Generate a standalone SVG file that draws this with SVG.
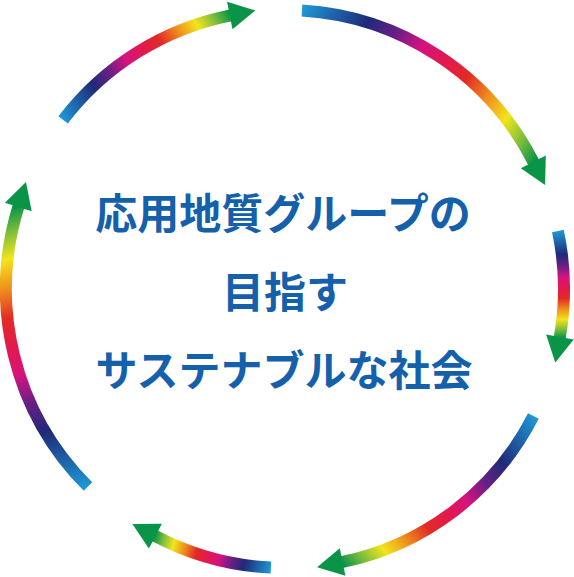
<svg xmlns="http://www.w3.org/2000/svg" width="574" height="577" viewBox="0 0 574 577">
<style>
.shaft{fill:none;stroke-width:12;stroke-linecap:butt}
.head{fill:#0a9447}
.t{font-family:"Noto Sans CJK JP","Noto Sans CJK SC",sans-serif;font-weight:700;font-size:42px;fill:#1560ab;text-anchor:middle}
</style>
<defs>
<linearGradient id="rb" gradientUnits="objectBoundingBox">
<stop offset="0" stop-color="#1e97d5"/>
<stop offset="0.22" stop-color="#1f2a78"/>
<stop offset="0.33" stop-color="#6a1f86"/>
<stop offset="0.43" stop-color="#d4137f"/>
<stop offset="0.53" stop-color="#e3194f"/>
<stop offset="0.63" stop-color="#e12a26"/>
<stop offset="0.73" stop-color="#ef8d1d"/>
<stop offset="0.83" stop-color="#f2e51c"/>
<stop offset="0.92" stop-color="#7cbd3c"/>
<stop offset="1" stop-color="#0a9447"/>
</linearGradient>
<linearGradient id="g1" href="#rb" gradientUnits="userSpaceOnUse" x1="63.1" y1="119.9" x2="230.8" y2="15.3"/>
<linearGradient id="g2" href="#rb" gradientUnits="userSpaceOnUse" x1="302" y1="10.5" x2="533.8" y2="162.8"/>
<linearGradient id="g3" href="#rb" gradientUnits="userSpaceOnUse" x1="557.9" y1="231" x2="559.7" y2="337.9"/>
<linearGradient id="g4" href="#rb" gradientUnits="userSpaceOnUse" x1="533.4" y1="416.1" x2="341.6" y2="562.2"/>
<linearGradient id="g5" href="#rb" gradientUnits="userSpaceOnUse" x1="270.9" y1="567.6" x2="154.5" y2="535.6"/>
<linearGradient id="g6" href="#rb" gradientUnits="userSpaceOnUse" x1="88" y1="486.6" x2="18.6" y2="206"/>
</defs>
<g id="connectors">
<g id="arrow1"><path class="shaft" stroke="url(#g1)" d="M63.1 119.9 A279 279 0 0 1 230.8 15.3"/><polygon class="head" points="255.3,10.4 227.1,1.8 232.5,29.2"/></g>
<g id="arrow2"><path class="shaft" stroke="url(#g2)" d="M302 10.5 A279 279 0 0 1 533.8 162.8"/><polygon class="head" points="545.1,185.1 545.8,155.6 520.8,168.2"/></g>
<g id="arrow3"><path class="shaft" stroke="url(#g3)" d="M557.9 231 A279 279 0 0 1 559.7 337.9"/><polygon class="head" points="555.3,362.5 573.7,339.4 546.1,334.4"/></g>
<g id="arrow4"><path class="shaft" stroke="url(#g4)" d="M533.4 416.1 A279 279 0 0 1 341.6 562.2"/><polygon class="head" points="317.1,567.3 345.4,575.7 339.8,548.3"/></g>
<g id="arrow5"><path class="shaft" stroke="url(#g5)" d="M270.9 567.6 A279 279 0 0 1 154.5 535.6"/><polygon class="head" points="132.4,523.9 148.9,548.5 161.9,523.7"/></g>
<g id="arrow6"><path class="shaft" stroke="url(#g6)" d="M88 486.6 A279 279 0 0 1 18.6 206"/><polygon class="head" points="26,182.1 4.9,202.8 31.7,211.2"/></g>
</g>
<g id="center-text">
<text class="t" x="283" y="229">応用地質グループの</text>
<text class="t" x="285" y="308">目指す</text>
<text class="t" x="284" y="386">サステナブルな社会</text>
</g>
</svg>
